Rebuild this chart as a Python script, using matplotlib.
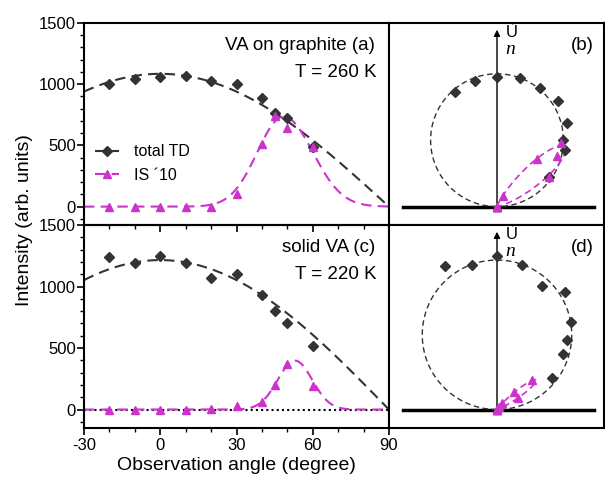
import numpy as np
import matplotlib
matplotlib.use("Agg")
import matplotlib.pyplot as plt
from matplotlib.ticker import MultipleLocator
from matplotlib.lines import Line2D

plt.rcParams['font.family'] = ['Liberation Sans', 'DejaVu Sans']
plt.rcParams['axes.unicode_minus'] = False

# ---------------- data ----------------
angles = [-20, -10, 0, 10, 20, 30, 40, 45, 50, 60]

# panel (a)/(b): VA on graphite, T = 260 K
td_260 = [1000, 1040, 1060, 1068, 1030, 1000, 890, 765, 720, 490]
is_260 = [0, 0, 0, 0, 0, 100, 510, 740, 645, 490]
# panel (c)/(d): solid VA, T = 220 K
td_220 = [1240, 1190, 1245, 1190, 1070, 1100, 930, 805, 700, 520]
is_220 = [0, 0, 0, 0, 5, 25, 65, 200, 370, 195]

# fit parameters (cosine for total TD, peaked lobe for IS x10)
cos_amp_260 = 1085
cos_amp_220 = 1215
is_fit_260 = dict(amp=735, center=48.5, w_left=10.3, w_right=11.5)
is_fit_220 = dict(amp=398, center=53.0, w_left=6.8, w_right=6.8)

x_ticks = [-30, 0, 30, 60, 90]
y_ticks = [0, 500, 1000, 1500]
labels_main = ["VA on graphite (a)", "solid VA (c)"]
labels_T = ["T = 260 K", "T = 220 K"]
labels_polar = ["(b)", "(d)"]
legend_labels = ["total TD", "IS \u00b410"]

# ---------------- styling ----------------
C_TD = '#333333'
C_IS = '#cc33cc'
MS_D = 5.2
MS_T = 6.2
W, H = 605, 478
fig = plt.figure(figsize=(W / 100, H / 100), dpi=100)

def fr(x0, y0, x1, y1):
    return [x0 / W, 1 - y1 / H, (x1 - x0) / W, (y1 - y0) / H]

def is_curve(th, amp, center, w_left, w_right):
    th = np.asarray(th, float)
    w = np.where(th < center, w_left, w_right)
    return amp * np.exp(-0.5 * ((th - center) / w) ** 2)

rows = [
    dict(y0=23, y1=225, td=td_260, isv=is_260, A=cos_amp_260, isf=is_fit_260),
    dict(y0=225, y1=428, td=td_220, isv=is_220, A=cos_amp_220, isf=is_fit_220),
]

YLIM = (-150, 1500)
for i, r in enumerate(rows):
    ax = fig.add_axes(fr(84, r['y0'], 389, r['y1']))
    th = np.linspace(-30, 90, 400)
    ax.plot(th, r['A'] * np.cos(np.radians(th)), ls=(0, (5, 3)), color=C_TD, lw=1.5, zorder=2)
    if i == 1:
        ax.plot([-30, 90], [0, 0], ls=(0, (1, 1.5)), color='black', lw=1.5, zorder=1)
    ax.plot(th, is_curve(th, **r['isf']), ls=(0, (5, 3)), color=C_IS, lw=1.5, zorder=2)
    ax.plot(angles, r['td'], ls='none', marker='D', ms=MS_D, color=C_TD, zorder=3)
    ax.plot(angles, r['isv'], ls='none', marker='^', ms=MS_T, color=C_IS, zorder=4)
    ax.set_xlim(-30, 90)
    ax.set_ylim(*YLIM)
    ax.set_yticks(y_ticks)
    ax.yaxis.set_minor_locator(MultipleLocator(100))
    ax.set_xticks(x_ticks)
    ax.xaxis.set_minor_locator(MultipleLocator(10))
    ax.tick_params(axis='both', which='major', direction='out', length=5, width=1.2,
                   labelsize=12, pad=2)
    ax.tick_params(axis='both', which='minor', direction='out', length=3, width=1)
    ax.tick_params(axis='y', pad=1)
    if i == 0:
        ax.tick_params(axis='x', labelbottom=False)
    for s in ax.spines.values():
        s.set_linewidth(1.5)
    ax.text(0.955, 0.89, labels_main[i], transform=ax.transAxes, ha='right', va='center', fontsize=13.5)
    ax.text(0.96, 0.755, labels_T[i], transform=ax.transAxes, ha='right', va='center', fontsize=13.5)
    ax.patch.set_alpha(0)
    if i == 0:
        h = [Line2D([], [], color=C_TD, ls=(0, (5, 3)), lw=1.5, marker='D', ms=MS_D),
             Line2D([], [], color=C_IS, ls=(0, (5, 3)), lw=1.5, marker='^', ms=MS_T)]
        ax.legend(h, legend_labels, loc='upper left', bbox_to_anchor=(0.0, 0.455),
                  frameon=False, fontsize=11.5, handlelength=1.5, handletextpad=0.9,
                  labelspacing=0.55, borderaxespad=0.3)

    # polar-like panel
    axp = fig.add_axes(fr(389, r['y0'], 604, r['y1']))
    axp.set_ylim(*YLIM)
    span = (YLIM[1] - YLIM[0]) * 215 / (r['y1'] - r['y0'])
    left = -108 / 215 * span
    axp.set_xlim(left, left + span)
    axp.set_xticks([]); axp.set_yticks([])
    for s in axp.spines.values():
        s.set_linewidth(1.5)
    phi = np.linspace(-90, 90, 400)
    rr = r['A'] * np.cos(np.radians(phi))
    axp.plot(rr * np.sin(np.radians(phi)), rr * np.cos(np.radians(phi)),
             ls=(0, (4, 2.5)), color=C_TD, lw=1.0, zorder=2)
    phi2 = np.linspace(0, 90, 400)
    ri = is_curve(phi2, **r['isf'])
    axp.plot(ri * np.sin(np.radians(phi2)), ri * np.cos(np.radians(phi2)),
             ls=(0, (4, 2.5)), color=C_IS, lw=1.2, zorder=2)
    a = np.radians(angles)
    td = np.array(r['td']); isv = np.array(r['isv'])
    axp.plot(td * np.sin(a), td * np.cos(a), ls='none', marker='D', ms=MS_D, color=C_TD, zorder=3)
    axp.plot(isv * np.sin(a), isv * np.cos(a), ls='none', marker='^', ms=MS_T, color=C_IS, zorder=4,
             clip_on=False)
    axp.plot([-768, 792], [0, 0], color='black', lw=2.5, zorder=1)
    axp.annotate('', xy=(0, 1445), xytext=(0, 0),
                 arrowprops=dict(arrowstyle='-|>', color='black', lw=1.0,
                                 mutation_scale=9, shrinkA=0, shrinkB=0), zorder=1)
    axp.text(75, 1420, '\u00d9', fontsize=12, ha='left', va='center')
    axp.text(70, 1285, 'n', fontsize=14, ha='left', va='center',
             family=['Liberation Serif'], style='italic')
    axp.text(0.95, 0.89, labels_polar[i], transform=axp.transAxes, ha='right', va='center',
             fontsize=13.5)

fig.text(236.5 / W, 1 - 466 / H, 'Observation angle (degree)', ha='center', va='center', fontsize=14)
fig.text(25 / W, 1 - 220 / H, 'Intensity (arb. units)', ha='center', va='center',
         rotation=90, fontsize=14)

fig.savefig('out.png', dpi=100)
